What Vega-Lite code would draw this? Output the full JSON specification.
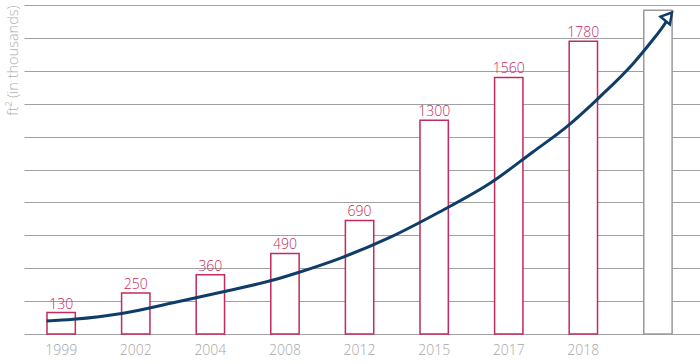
{
  "$schema": "https://vega.github.io/schema/vega-lite/v6.json",
  "width": 676,
  "height": 329,
  "autosize": "none",
  "padding": {"left": 24, "top": 5, "right": 0, "bottom": 30},
  "background": "white",
  "config": {"view": {"stroke": null}, "font": "Open Sans"},
  "datasets": {
    "bars": [
      {"year": "1999", "value": 130, "kind": "actual"},
      {"year": "2002", "value": 250, "kind": "actual"},
      {"year": "2004", "value": 360, "kind": "actual"},
      {"year": "2008", "value": 490, "kind": "actual"},
      {"year": "2012", "value": 690, "kind": "actual"},
      {"year": "2015", "value": 1300, "kind": "actual"},
      {"year": "2017", "value": 1560, "kind": "actual"},
      {"year": "2018", "value": 1780, "kind": "actual"},
      {"year": "future", "value": 1968, "kind": "future"}
    ],
    "curve": [
      {"i": -0.192, "v": 79},
      {"i": 0.165, "v": 89},
      {"i": 0.835, "v": 126},
      {"i": 1.505, "v": 190},
      {"i": 2.176, "v": 257},
      {"i": 2.846, "v": 328},
      {"i": 3.204, "v": 377},
      {"i": 3.74, "v": 460},
      {"i": 4.41, "v": 587},
      {"i": 5.08, "v": 743},
      {"i": 5.751, "v": 916},
      {"i": 6.331, "v": 1108},
      {"i": 6.778, "v": 1259},
      {"i": 7.225, "v": 1442},
      {"i": 7.672, "v": 1645},
      {"i": 7.895, "v": 1766},
      {"i": 8.119, "v": 1903},
      {"i": 8.16, "v": 1935}
    ],
    "head": [{"i": 8.146, "v": 1930}]
  },
  "layer": [
    {
      "data": {"name": "bars"},
      "layer": [
        {
          "mark": {"type": "bar", "fill": "white", "strokeWidth": 1.5},
          "encoding": {
            "x": {
              "field": "year", "type": "ordinal", "sort": null,
              "scale": {"type": "band", "paddingInner": 0.62, "paddingOuter": 0.341, "align": 0.452},
              "axis": {
                "title": null, "domain": false, "ticks": false,
                "labelExpr": "datum.value == 'future' ? '' : datum.value",
                "labelColor": "#a6a6a6", "labelFontSize": 14, "labelPadding": 9,
                "labelAngle": 0, "labelFont": "Open Sans", "labelFontWeight": 300
              }
            },
            "y": {
              "field": "value", "type": "quantitative",
              "scale": {"domain": [0, 2000], "nice": false},
              "axis": {
                "values": [0, 200, 400, 600, 800, 1000, 1200, 1400, 1600, 1800, 2000],
                "labels": false, "ticks": false, "domain": false,
                "grid": true, "gridColor": "#a0a0a0", "gridWidth": 1,
                "title": "ft² (in thousands)",
                "titleColor": "#b0b0b0", "titleFontSize": 14.5, "titleFontWeight": 300,
                "titleFont": "Open Sans",
                "titleAngle": -90, "titleX": -11, "titleY": 0,
                "titleAlign": "right", "titleBaseline": "middle"
              }
            },
            "stroke": {
              "field": "kind", "type": "nominal",
              "scale": {"domain": ["actual", "future"], "range": ["#c42a5e", "#9a9a9a"]},
              "legend": null
            }
          }
        },
        {
          "transform": [{"filter": "datum.kind == 'actual'"}],
          "mark": {"type": "text", "baseline": "alphabetic", "dy": -4, "fontSize": 14, "color": "#c42a5e", "font": "Open Sans", "fontWeight": 300},
          "encoding": {
            "x": {
              "field": "year", "type": "ordinal", "sort": null,
              "scale": {"type": "band", "paddingInner": 0.62, "paddingOuter": 0.341, "align": 0.452},
              "axis": {
                "title": null, "domain": false, "ticks": false,
                "labelExpr": "datum.value == 'future' ? '' : datum.value",
                "labelColor": "#a6a6a6", "labelFontSize": 14, "labelPadding": 9,
                "labelAngle": 0, "labelFont": "Open Sans", "labelFontWeight": 300
              }
            },
            "y": {
              "field": "value", "type": "quantitative",
              "axis": {
                "values": [0, 200, 400, 600, 800, 1000, 1200, 1400, 1600, 1800, 2000],
                "labels": false, "ticks": false, "domain": false,
                "grid": true, "gridColor": "#a0a0a0", "gridWidth": 1,
                "title": "ft² (in thousands)",
                "titleColor": "#b0b0b0", "titleFontSize": 14.5, "titleFontWeight": 300,
                "titleFont": "Open Sans",
                "titleAngle": -90, "titleX": -11, "titleY": 0,
                "titleAlign": "right", "titleBaseline": "middle"
              }
            },
            "text": {"field": "value", "type": "quantitative"}
          }
        }
      ]
    },
    {
      "layer": [
        {
          "data": {"name": "curve"},
          "mark": {"type": "line", "interpolate": "monotone", "color": "#0f3d69", "strokeWidth": 3},
          "encoding": {
            "x": {"field": "i", "type": "quantitative", "scale": {"domain": [-0.4946, 8.5669], "nice": false, "zero": false}, "axis": null},
            "y": {
              "field": "v", "type": "quantitative",
              "axis": {
                "values": [0, 200, 400, 600, 800, 1000, 1200, 1400, 1600, 1800, 2000],
                "labels": false, "ticks": false, "domain": false,
                "grid": true, "gridColor": "#a0a0a0", "gridWidth": 1,
                "title": "ft² (in thousands)",
                "titleColor": "#b0b0b0", "titleFontSize": 14.5, "titleFontWeight": 300,
                "titleFont": "Open Sans",
                "titleAngle": -90, "titleX": -11, "titleY": 0,
                "titleAlign": "right", "titleBaseline": "middle"
              }
            }
          }
        },
        {
          "data": {"name": "head"},
          "mark": {"type": "point", "shape": "triangle-up", "size": 150, "angle": 40, "filled": false, "fill": "white", "fillOpacity": 1, "stroke": "#0f3d69", "strokeWidth": 2.5, "opacity": 1},
          "encoding": {
            "x": {"field": "i", "type": "quantitative", "scale": {"domain": [-0.4946, 8.5669], "nice": false, "zero": false}, "axis": null},
            "y": {
              "field": "v", "type": "quantitative",
              "axis": {
                "values": [0, 200, 400, 600, 800, 1000, 1200, 1400, 1600, 1800, 2000],
                "labels": false, "ticks": false, "domain": false,
                "grid": true, "gridColor": "#a0a0a0", "gridWidth": 1,
                "title": "ft² (in thousands)",
                "titleColor": "#b0b0b0", "titleFontSize": 14.5, "titleFontWeight": 300,
                "titleFont": "Open Sans",
                "titleAngle": -90, "titleX": -11, "titleY": 0,
                "titleAlign": "right", "titleBaseline": "middle"
              }
            }
          }
        }
      ]
    }
  ],
  "resolve": {"scale": {"x": "independent"}}
}
